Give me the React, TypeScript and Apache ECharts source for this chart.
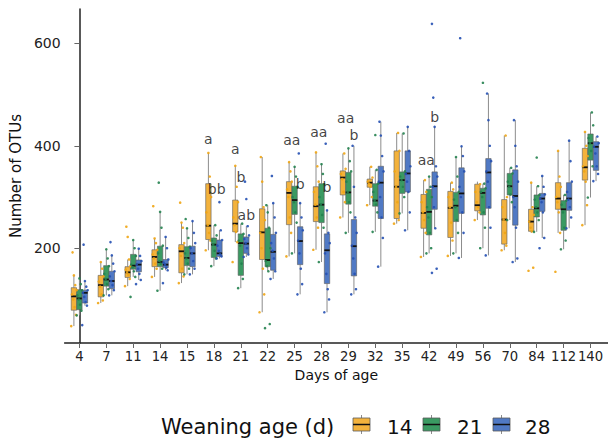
import React, { useEffect, useRef } from "react";
import * as echarts from "echarts";

// Days of age (categories)
const days = ["4", "7", "11", "14", "15", "18", "21", "22", "25", "28", "29", "32", "35", "42", "49", "56", "70", "84", "112", "140"];
const groups = ["14", "21", "28"];
const yTicks = [200, 400, 600];

// Box statistics [lower whisker, Q1, median, Q3, upper whisker]
const box14 = [
  [48, 79, 106, 123, 147], [93, 105, 128, 147, 173], [126, 143, 153, 164, 178], [144, 164, 183, 197, 219],
  [132, 152, 194, 207, 250], [196, 217, 244, 326, 386], [212, 232, 248, 294, 361], [75, 178, 231, 277, 378],
  [184, 246, 308, 330, 368], [197, 252, 282, 320, 387], [260, 304, 338, 351, 385], [284, 319, 328, 335, 359],
  [248, 258, 320, 390, 425], [183, 239, 269, 305, 333], [185, 221, 279, 311, 328], [255, 273, 284, 325, 330],
  [196, 208, 256, 295, 420], [230, 233, 252, 276, 328], [230, 276, 297, 328, 390], [245, 333, 358, 395, 427],
];
const box21 = [
  [69, 80, 102, 119, 141], [108, 126, 139, 166, 198], [144, 159, 166, 188, 216], [117, 164, 173, 204, 271],
  [149, 166, 181, 203, 239], [165, 182, 207, 220, 245], [122, 147, 210, 228, 248], [155, 164, 177, 239, 284],
  [190, 266, 294, 321, 359], [173, 250, 285, 326, 364], [230, 286, 309, 348, 395], [232, 282, 293, 326, 353],
  [268, 307, 333, 349, 424], [190, 226, 271, 315, 340], [190, 252, 283, 309, 378], [200, 265, 308, 317, 326],
  [255, 304, 321, 346, 357], [232, 261, 278, 304, 321], [198, 235, 276, 293, 304], [299, 372, 405, 423, 465],
];
const box28 = [
  [88, 93, 113, 118, 136], [108, 121, 136, 155, 186], [138, 154, 168, 177, 199], [157, 162, 168, 178, 222],
  [149, 164, 190, 204, 253], [180, 184, 190, 216, 235], [183, 190, 209, 222, 243], [140, 157, 193, 227, 288],
  [110, 168, 214, 242, 288], [75, 131, 196, 228, 274], [110, 146, 204, 256, 400], [164, 258, 328, 360, 447],
  [235, 310, 346, 390, 437], [239, 276, 321, 349, 437], [181, 268, 307, 357, 399], [186, 278, 348, 375, 502],
  [173, 245, 302, 353, 450], [220, 272, 297, 307, 341], [239, 274, 297, 328, 410], [331, 352, 398, 408, 418],
];

// Individual observations (number of OTUs)
const pts14 = [
  [48, 70, 85, 100, 110, 118, 128, 147, 192], [93, 98, 110, 125, 135, 145, 160, 173], [126, 140, 148, 153, 158, 165, 178, 222, 242],
  [144, 160, 170, 180, 188, 197, 210, 219, 282], [132, 145, 160, 185, 200, 210, 240, 250, 289], [196, 215, 230, 245, 270, 300, 340, 386],
  [173, 212, 232, 245, 260, 290, 320, 361], [75, 110, 160, 200, 230, 255, 280, 330, 378], [184, 230, 260, 300, 315, 330, 350, 368],
  [197, 240, 260, 285, 310, 330, 360, 387], [260, 290, 310, 335, 345, 355, 385], [284, 300, 320, 326, 330, 338, 359],
  [248, 255, 290, 320, 350, 390, 425], [183, 230, 255, 270, 290, 310, 333], [185, 215, 250, 280, 300, 315, 328],
  [255, 270, 280, 290, 310, 325], [196, 205, 230, 256, 280, 300, 420], [156, 162, 233, 240, 252, 265, 280, 328],
  [154, 230, 270, 290, 300, 320, 340, 390], [245, 284, 330, 350, 360, 380, 400, 427],
];
const pts21 = [
  [69, 78, 90, 100, 108, 118, 130, 141], [108, 120, 130, 140, 150, 165, 180, 198], [105, 144, 155, 163, 168, 185, 200, 216],
  [117, 160, 170, 175, 190, 205, 240, 271, 328], [149, 160, 170, 180, 190, 203, 220, 239, 257], [165, 180, 195, 207, 215, 225, 245],
  [122, 140, 170, 205, 215, 228, 248], [44, 52, 155, 165, 175, 200, 240, 270, 284], [190, 250, 270, 290, 300, 320, 340, 359],
  [173, 240, 265, 285, 300, 325, 345, 364], [230, 270, 290, 310, 330, 350, 370, 395], [232, 270, 285, 293, 310, 326, 353, 421],
  [268, 300, 320, 333, 340, 350, 424], [190, 200, 230, 260, 280, 300, 320, 340], [190, 230, 255, 280, 295, 310, 340, 378],
  [200, 240, 270, 300, 310, 317, 326, 523], [255, 290, 305, 320, 330, 346, 357], [232, 255, 270, 280, 295, 304, 321, 377],
  [198, 215, 240, 270, 285, 293, 304], [299, 360, 390, 405, 415, 440, 465],
];
const pts28 = [
  [50, 88, 95, 105, 113, 118, 125, 136, 207], [108, 118, 128, 136, 145, 155, 170, 186, 212], [130, 138, 150, 160, 168, 175, 185, 199],
  [132, 157, 162, 168, 172, 178, 200, 222], [149, 160, 175, 190, 200, 210, 230, 253], [180, 184, 188, 195, 205, 216, 235, 290],
  [183, 188, 200, 210, 218, 225, 243, 296, 330], [140, 155, 180, 195, 210, 230, 260, 288, 341], [110, 130, 160, 190, 215, 235, 260, 288, 385],
  [75, 100, 120, 150, 190, 210, 230, 274, 404], [110, 120, 150, 180, 205, 230, 260, 320, 400], [164, 220, 260, 300, 330, 350, 380, 420, 447],
  [235, 270, 310, 330, 345, 360, 390, 437], [152, 160, 239, 280, 320, 340, 360, 437, 494, 638], [181, 230, 270, 300, 320, 350, 380, 399, 610],
  [186, 240, 280, 330, 350, 370, 400, 450, 502], [173, 180, 240, 280, 300, 330, 360, 400, 450], [200, 220, 270, 290, 297, 305, 320, 341],
  [239, 260, 280, 295, 310, 330, 370, 410], [331, 345, 360, 385, 398, 405, 418],
];

// Significance letters: [day index, groups labelled, text, anchor value]
const letters: [number, number[], string, number][] = [
  [5, [0], "a", 413], [5, [1, 2], "bb", 315],
  [6, [0], "a", 393], [6, [1], "b", 340], [6, [2], "ab", 265],
  [8, [0, 1], "aa", 412], [8, [2], "b", 325],
  [9, [0, 1], "aa", 427], [9, [2], "b", 319],
  [10, [0, 1], "aa", 455], [10, [2], "b", 422],
  [13, [0, 1], "aa", 372], [13, [2], "b", 457],
];

const FONT = "DejaVu Sans";
const fills = ["#F3B23C", "#3A9A62", "#5079C4"];
const dots = ["#EFA514", "#23824F", "#2550B2"];
const OFF = [-0.205, 0, 0.205];
const BOXW = 0.2;

const jit = (j: number) => (((j * 7) % 9) / 8 - 0.5) * 0.2;
const meanOff = (gs: number[]) => gs.reduce((s, g) => s + OFF[g], 0) / gs.length;

function boxRenderer(gi: number) {
  return (params: any, api: any) => {
    const ci = api.value(0);
    const x = api.coord([ci + OFF[gi], 0])[0];
    const w = api.size([BOXW, 0])[0];
    const y = (k: number) => api.coord([ci, api.value(k)])[1];
    const yLo = y(1), yQ1 = y(2), yMed = y(3), yQ3 = y(4), yHi = y(5);
    const ws = { stroke: "#8c8c8c", lineWidth: 1 };
    return {
      type: "group",
      children: [
        { type: "line", shape: { x1: x, y1: yHi, x2: x, y2: yQ3 }, style: ws },
        { type: "line", shape: { x1: x, y1: yQ1, x2: x, y2: yLo }, style: ws },
        { type: "rect", shape: { x: x - w / 2, y: yQ3, width: w, height: Math.max(yQ1 - yQ3, 0.5) }, style: { fill: fills[gi], stroke: "#5a5a5a", lineWidth: 0.6 } },
        { type: "line", shape: { x1: x - w / 2, y1: yMed, x2: x + w / 2, y2: yMed }, style: { stroke: "#111", lineWidth: 1.8 } },
      ],
    };
  };
}

function legendKey(x: number, color: string) {
  const y0 = 418, h = 13, w = 17;
  return [
    { type: "line", shape: { x1: x + w / 2, y1: y0 - 3, x2: x + w / 2, y2: y0 + h + 3 }, style: { stroke: "#8c8c8c", lineWidth: 1 } },
    { type: "rect", shape: { x, y: y0, width: w, height: h }, style: { fill: color, stroke: "#5a5a5a", lineWidth: 0.8 } },
    { type: "line", shape: { x1: x, y1: y0 + h / 2, x2: x + w, y2: y0 + h / 2 }, style: { stroke: "#111", lineWidth: 1.5 } },
  ];
}

export default function App() {
  const ref = useRef<HTMLDivElement>(null);
  useEffect(() => {
    if (!ref.current) return;
    const chart = echarts.init(ref.current, null, { renderer: "svg" });
    const boxes = [box14, box21, box28];
    const pts = [pts14, pts21, pts28];
    const series: any[] = [];
    boxes.forEach((b, gi) => {
      series.push({
        type: "custom",
        name: groups[gi],
        renderItem: boxRenderer(gi),
        data: b.map((s, i) => [i, ...s]),
        encode: { x: 0, y: [1, 2, 3, 4, 5] },
        z: 2,
      });
    });
    pts.forEach((p, gi) => {
      series.push({
        type: "scatter",
        symbolSize: 2.6,
        itemStyle: { color: dots[gi], opacity: 0.9 },
        data: p.flatMap((arr, i) => arr.map((v, j) => [i + OFF[gi] + jit(j), v])),
        z: 3,
      });
    });
    series.push({
      type: "scatter",
      symbolSize: 0,
      data: letters.map(([ci, gs, t, v]) => [ci + meanOff(gs), v, t]),
      label: {
        show: true,
        position: "inside",
        formatter: (p: any) => p.value[2],
        fontFamily: FONT,
        fontSize: 14,
        color: "#111",
      },
      z: 4,
    });

    const legendItems: any[] = [
      { type: "text", left: 161, top: 416, style: { text: "Weaning age (d)", font: `21px '${FONT}'`, fill: "#111" } },
    ];
    const keyX = [353, 423, 493];
    const txtX = [387, 457, 525];
    groups.forEach((g, gi) => {
      legendItems.push(...legendKey(keyX[gi], fills[gi]));
      legendItems.push({ type: "text", left: txtX[gi], top: 417, style: { text: g, font: `20px '${FONT}'`, fill: "#111" } });
    });

    chart.setOption({
      animation: false,
      backgroundColor: "#fff",
      grid: { left: 62, top: 9, width: 549, height: 334, containLabel: false },
      xAxis: {
        type: "value",
        min: -0.55,
        max: 19.65,
        name: "Days of age",
        nameLocation: "middle",
        nameGap: 24,
        nameTextStyle: { fontFamily: FONT, fontSize: 14, color: "#111" },
        axisLine: { show: true, onZero: false, lineStyle: { color: "#222", width: 1.5 } },
        axisTick: { show: true, length: 5, customValues: days.map((_, i) => i), lineStyle: { color: "#666" } },
        axisLabel: {
          customValues: days.map((_, i) => i),
          formatter: (v: number) => days[Math.round(v)],
          fontFamily: FONT,
          fontSize: 13.2,
          color: "#222",
          margin: 7,
        },
        splitLine: { show: false },
      },
      yAxis: {
        type: "value",
        min: 15,
        max: 667,
        name: "Number of OTUs",
        nameLocation: "middle",
        nameRotate: 90,
        nameGap: 37,
        nameTextStyle: { fontFamily: FONT, fontSize: 15, color: "#111" },
        axisLine: { show: true, lineStyle: { color: "#222", width: 1.5 } },
        axisTick: { show: true, length: 5, customValues: yTicks, lineStyle: { color: "#666" } },
        axisLabel: { customValues: yTicks, fontFamily: FONT, fontSize: 14, color: "#222", margin: 4 },
        splitLine: { show: false },
      },
      graphic: legendItems,
      series,
    });
    return () => chart.dispose();
  }, []);
  return <div ref={ref} style={{ position: "fixed", left: 0, top: 0, width: 608, height: 442, background: "#fff" }} />;
}
